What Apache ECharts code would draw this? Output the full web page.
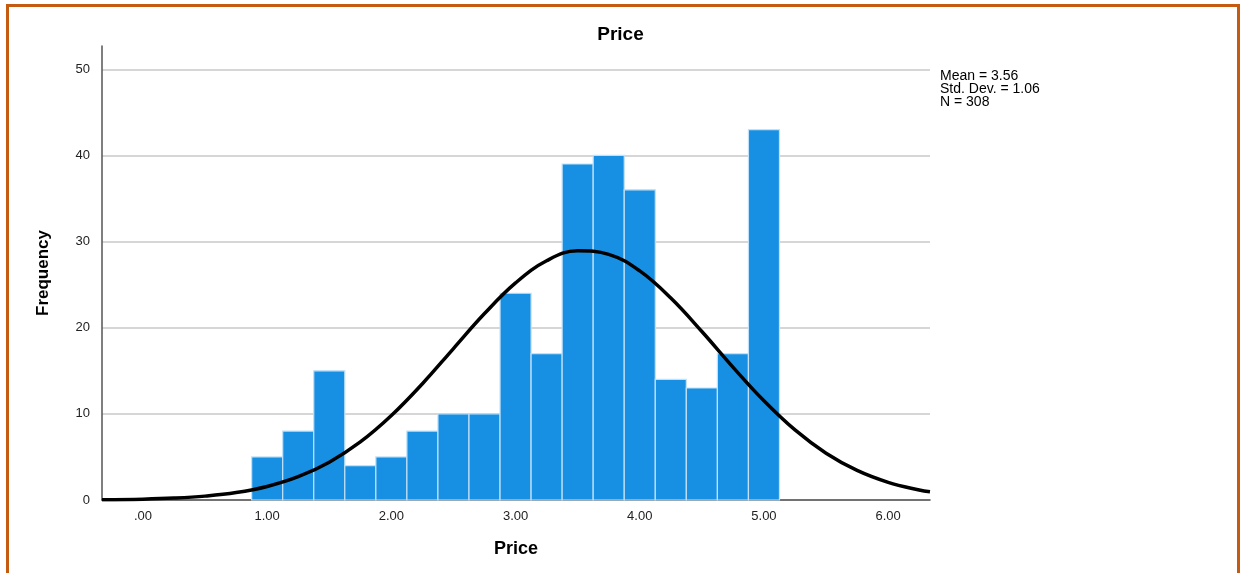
<!DOCTYPE html>
<html>
<head>
<meta charset="utf-8">
<script src="https://cdn.jsdelivr.net/npm/echarts@6/dist/echarts.min.js"></script>
<style>
  html, body { margin: 0; padding: 0; background: #fff; }
  #chart { position: absolute; left: 0; top: 0; width: 1241px; height: 573px; }
  #frame { position: absolute; left: 6px; top: 4px; width: 1228px; height: 620px;
           border: 3px solid #c55a11; border-bottom: none; pointer-events: none; }
</style>
</head>
<body>
<div id="chart"></div>
<div id="frame"></div>
<script>
// Histogram bins (centres) and frequencies
const binCenters = [1.00, 1.25, 1.50, 1.75, 2.00, 2.25, 2.50, 2.75, 3.00, 3.25, 3.50, 3.75, 4.00, 4.25, 4.50, 4.75, 5.00];
const frequencies = [5, 8, 15, 4, 5, 8, 10, 10, 24, 17, 39, 40, 36, 14, 13, 17, 43];
const binWidth = 0.25;

// Normal curve, values
const curveX = [-0.33, 0.00, 0.25, 0.50, 0.75, 1.00, 1.25, 1.50, 1.75, 2.00, 2.25, 2.50, 2.75, 3.00, 3.25, 3.50, 3.75, 4.00, 4.25, 4.50, 4.75, 5.00, 5.25, 5.50, 5.75, 6.00, 6.25, 6.337];
const curveY = [0.03, 0.10, 0.22, 0.45, 0.86, 1.57, 2.70, 4.39, 6.74, 9.81, 13.50, 17.58, 21.64, 25.20, 27.77, 28.93, 28.52, 26.59, 23.44, 19.56, 15.43, 11.52, 8.13, 5.43, 3.43, 2.05, 1.16, 0.95];

// Tick labels
const xTickValues = [0, 1, 2, 3, 4, 5, 6];
const xTickLabels = ['.00', '1.00', '2.00', '3.00', '4.00', '5.00', '6.00'];
const statsLines = ['Mean = 3.56', 'Std. Dev. = 1.06', 'N = 308'];

const histData = binCenters.map((c, i) => [c, frequencies[i]]);
const curveData = curveX.map((x, i) => [x, curveY[i]]);

const chart = echarts.init(document.getElementById('chart'), null, { renderer: 'canvas' });
const font = 'Liberation Sans, Arial, sans-serif';

chart.setOption({
  animation: false,
  backgroundColor: '#fff',
  title: {
    text: 'Price',
    left: 'center',
    top: 20,
    textStyle: { fontFamily: font, fontWeight: 'bold', fontSize: 19, color: '#000' }
  },
  grid: { left: 102, right: 311, top: 46, bottom: 73, containLabel: false },
  xAxis: {
    type: 'value',
    min: -0.33,
    max: 6.337,
    name: 'Price',
    nameLocation: 'middle',
    nameGap: 40,
    nameTextStyle: { fontFamily: font, fontWeight: 'bold', fontSize: 18, color: '#000' },
    axisLine: { show: true, onZero: false, lineStyle: { color: '#444', width: 1.5 } },
    axisTick: { show: false },
    splitLine: { show: false },
    axisLabel: {
      customValues: xTickValues,
      margin: 10,
      fontFamily: font,
      fontSize: 13,
      color: '#222',
      formatter: function (v) {
        const i = xTickValues.indexOf(Math.round(v));
        return i >= 0 ? xTickLabels[i] : '';
      }
    }
  },
  yAxis: {
    type: 'value',
    min: 0,
    max: 52.7,
    interval: 10,
    name: 'Frequency',
    nameLocation: 'middle',
    nameGap: 50,
    nameRotate: 90,
    nameTextStyle: { fontFamily: font, fontWeight: 'bold', fontSize: 17, color: '#000' },
    axisLine: { show: true, onZero: false, lineStyle: { color: '#555', width: 1.5 } },
    axisTick: { show: false },
    axisLabel: { showMaxLabel: false, margin: 12, fontFamily: font, fontSize: 13, color: '#222' },
    splitLine: { show: true, showMaxLine: false, showMinLine: false, lineStyle: { color: '#c8c8c8', width: 1.5 } }
  },
  series: [
    {
      type: 'custom',
      data: histData,
      z: 2,
      renderItem: function (params, api) {
        const c = api.value(0), f = api.value(1);
        const p0 = api.coord([c - binWidth / 2, f]);
        const p1 = api.coord([c + binWidth / 2, 0]);
        return {
          type: 'rect',
          shape: { x: p0[0], y: p0[1], width: p1[0] - p0[0], height: p1[1] - p0[1] },
          style: { fill: '#1790e4', stroke: '#c2e1f8', lineWidth: 1.2 }
        };
      }
    },
    {
      type: 'line',
      data: curveData,
      smooth: 0.4,
      symbol: 'none',
      z: 3,
      lineStyle: { color: '#000', width: 3.5 }
    }
  ],
  graphic: [
    {
      type: 'text',
      left: 940,
      top: 69,
      style: {
        text: statsLines.join('\n'),
        font: '14px ' + font,
        lineHeight: 13,
        fill: '#000'
      }
    }
  ]
});
</script>
</body>
</html>
